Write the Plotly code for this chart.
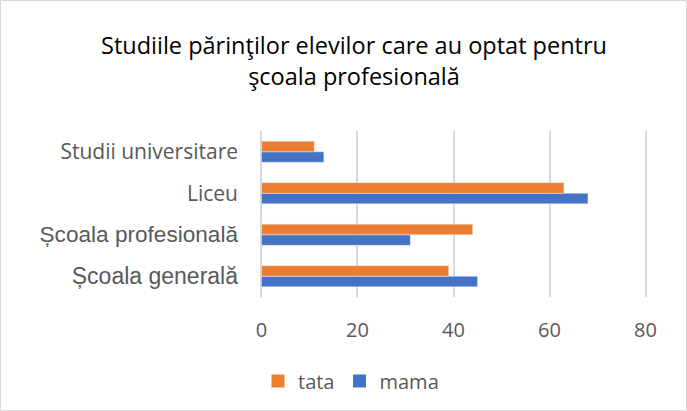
import plotly.graph_objects as go

# categories from bottom to top, as drawn
categories = ["Școala generală", "Școala profesională", "Liceu", "Studii universitare"]
tata = [39, 44, 63, 11]
mama = [45, 31, 68, 13]
x_ticks = [0, 20, 40, 60, 80]

TATA_COLOR = "#ED7D31"
MAMA_COLOR = "#4472C4"
TEXT_GRAY = "#595959"

W, H = 687, 411
L, R, T, B = 260, 40, 131, 114
PW, PH = W - L - R, H - T - B

# the two lower labels use a wider face and a larger size in the original
tick_text = [
    '<span style="font-family:Liberation Sans;font-size:23px">Școala generală</span>',
    '<span style="font-family:Liberation Sans;font-size:22.6px">Școala profesională</span>',
    "Liceu",
    "Studii universitare",
]

fig = go.Figure()
fig.add_trace(go.Bar(y=categories, x=mama, name="mama", orientation="h",
                     marker_color=MAMA_COLOR, showlegend=False))
fig.add_trace(go.Bar(y=categories, x=tata, name="tata", orientation="h",
                     marker_color=TATA_COLOR, showlegend=False))

# legend entries with square swatches like the original
for name, color in [("tata", TATA_COLOR), ("mama", MAMA_COLOR)]:
    fig.add_trace(go.Scatter(x=[None], y=[None], mode="markers", name=name,
                             marker=dict(symbol="square", size=13, color=color)))

fig.update_layout(
    width=W,
    height=H,
    margin=dict(l=L, r=R, t=T, b=B, autoexpand=False),
    paper_bgcolor="white",
    plot_bgcolor="white",
    barmode="group",
    bargap=0.49,
    bargroupgap=0,
    font=dict(family="Open Sans", size=20, color=TEXT_GRAY),
    title=dict(
        text="Studiile părinţilor elevilor care au optat pentru<br>şcoala profesională",
        font=dict(family="Open Sans", size=23.5, color="#000000"),
        x=354 / W,
        xref="container",
        xanchor="center",
        y=1 - 54 / H,
        yref="container",
        yanchor="top",
    ),
    legend=dict(
        orientation="h",
        x=(351 - L) / PW,
        xanchor="center",
        y=(H - B - 381) / PH,
        yanchor="middle",
        font=dict(size=20, color=TEXT_GRAY),
        itemwidth=30,
    ),
    showlegend=True,
)

# small padding on the range so the gridlines at 0 and 80 are kept
fig.update_xaxes(
    range=[-0.3, 80.3],
    tickvals=x_ticks,
    showgrid=True,
    gridcolor="#D9D9D9",
    gridwidth=1.5,
    zeroline=False,
    showline=False,
    ticks="",
    ticklabelstandoff=19,
    tickfont=dict(size=20, color=TEXT_GRAY),
    fixedrange=True,
)
fig.update_yaxes(
    categoryorder="array",
    categoryarray=categories,
    tickvals=categories,
    ticktext=tick_text,
    showgrid=False,
    zeroline=False,
    showline=False,
    ticks="",
    ticklabelstandoff=21,
    tickfont=dict(size=21, color=TEXT_GRAY),
    fixedrange=True,
)

# light frame around the whole chart
fig.add_shape(
    type="rect",
    xref="paper",
    yref="paper",
    x0=(0.5 - L) / PW,
    x1=(W - 0.5 - L) / PW,
    y0=(H - B - (H - 0.5)) / PH,
    y1=(H - B - 0.5) / PH,
    line=dict(color="#D9D9D9", width=1),
    fillcolor="rgba(0,0,0,0)",
    layer="above",
)

fig.write_html("out.html", config={"displayModeBar": False},
               post_script="document.body.style.margin='0';")
